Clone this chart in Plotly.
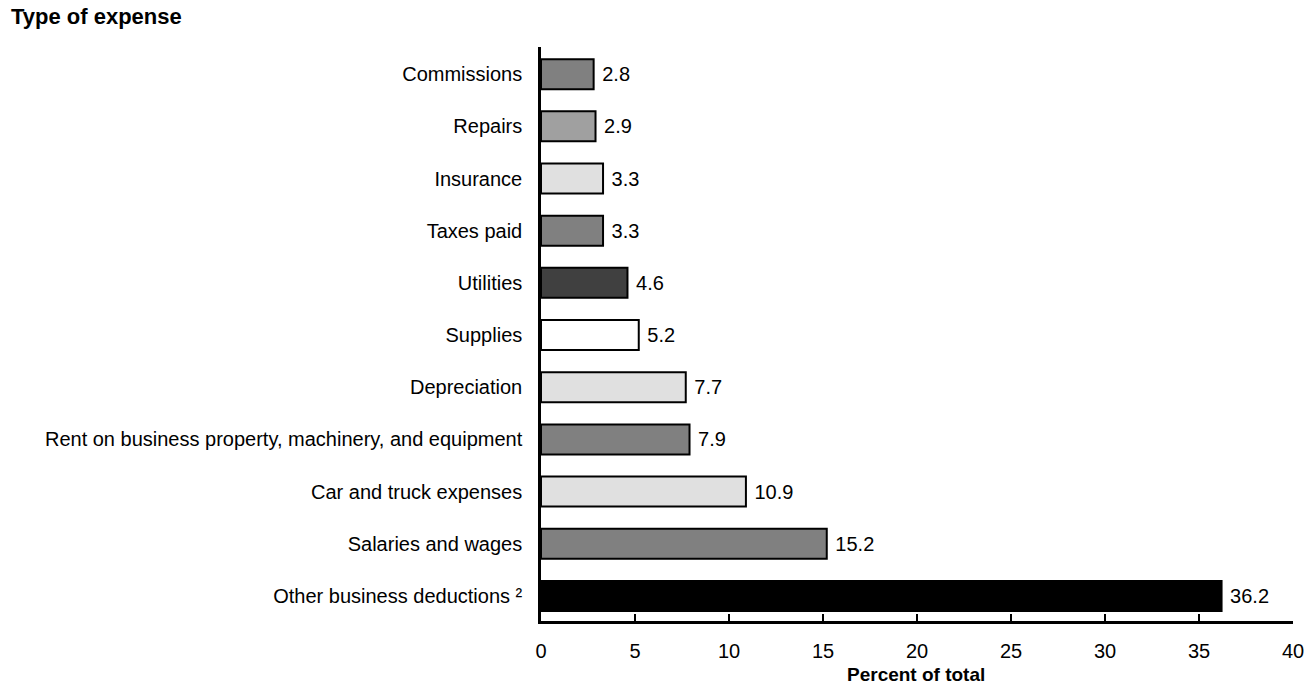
import plotly.graph_objects as go

categories = [
    "Commissions", "Repairs", "Insurance", "Taxes paid", "Utilities", "Supplies",
    "Depreciation", "Rent on business property, machinery, and equipment",
    "Car and truck expenses", "Salaries and wages", "Other business deductions \u00b2",
]
values = [2.8, 2.9, 3.3, 3.3, 4.6, 5.2, 7.7, 7.9, 10.9, 15.2, 36.2]
colors = ["#808080", "#a0a0a0", "#e0e0e0", "#808080", "#404040", "#ffffff",
          "#e0e0e0", "#808080", "#e0e0e0", "#808080", "#000000"]
x_ticks = [0, 5, 10, 15, 20, 25, 30, 35, 40]

FONT = "Liberation Sans, Arial, sans-serif"
W, H = 1316, 687
L, R, T, B = 541, 19, 47, 66
PW, PH = W - L - R, H - T - B

fig = go.Figure(go.Bar(
    y=categories, x=values, orientation="h",
    marker=dict(color=colors, line=dict(color="black", width=2)),
    width=0.575,
    text=["\u00a0" + f"{v:.1f}" for v in values], textposition="outside",
    textfont=dict(family=FONT, size=20, color="black"),
    cliponaxis=False,
))

fig.update_layout(
    width=W, height=H,
    margin=dict(l=L, r=R, t=T, b=B),
    plot_bgcolor="white", paper_bgcolor="white",
    font=dict(family=FONT, size=20, color="black"),
    showlegend=False,
    xaxis=dict(range=[0, 40], tickvals=x_ticks, ticks="inside", ticklen=7, tickwidth=2,
               tickcolor="black", showline=True, linecolor="black", linewidth=2.5,
               showgrid=False, zeroline=False, ticklabelstandoff=10,
               tickfont=dict(size=20)),
    yaxis=dict(categoryorder="array", categoryarray=categories[::-1],
               range=[-0.48, 10.52], showline=True, linecolor="black", linewidth=2.5,
               showgrid=False, zeroline=False, ticks="", ticklabelstandoff=12,
               tickfont=dict(size=20)),
    annotations=[
        dict(text="<b>Type of expense</b>", xref="paper", yref="paper",
             x=(6 - L) / PW, y=1 + (T - 17) / PH, showarrow=False,
             xanchor="left", yanchor="middle", font=dict(size=22)),
        dict(text="<b>Percent of total</b>", xref="paper", yref="paper",
             x=(918 - L) / PW, y=-(674 - (H - B)) / PH, showarrow=False,
             xanchor="center", yanchor="middle", font=dict(size=19)),
    ],
)

fig.write_html("out.html", config={"displayModeBar": False},
               post_script="document.body.style.margin='0';")
